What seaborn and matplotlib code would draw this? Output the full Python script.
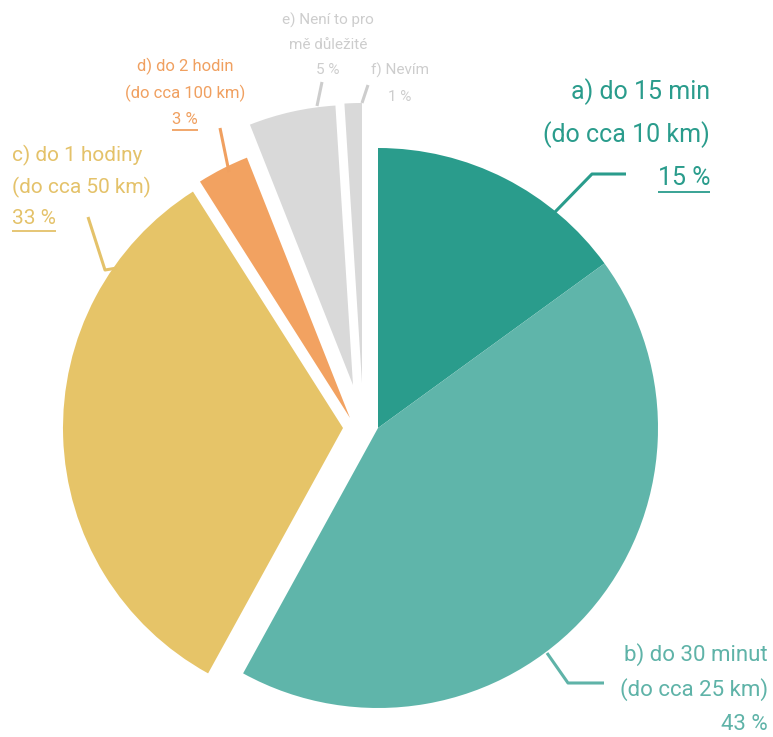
import matplotlib
matplotlib.use('Agg')
import matplotlib.pyplot as plt
import seaborn as sns

# data
categories = ['a) do 15 min', 'b) do 30 minut', 'c) do 1 hodiny',
              'd) do 2 hodin', 'e) Není to pro mě důležité', 'f) Nevím']
shares = [15, 43, 33, 3, 5, 1]
pct_labels = ['15 %', '43 %', '33 %', '3 %', '5 %', '1 %']
label_lines = [
    ['a) do 15 min', '(do cca 10 km)'],
    ['b) do 30 minut', '(do cca 25 km)'],
    ['c) do 1 hodiny', '(do cca 50 km)'],
    ['d) do 2 hodin', '(do cca 100 km)'],
    ['e) Není to pro', 'mě důležité'],
    ['f) Nevím'],
]

slice_colors = ['#2a9c8c', '#5fb5aa', '#e6c468', '#f2a261', '#d9d9d9', '#d9d9d9']
text_colors = ['#2a9c8c', '#5fb3a8', '#e4c26a', '#f0a060', '#cdcdcd', '#cdcdcd']

sns.set_theme(style='white')
plt.rcParams['font.family'] = ['Roboto', 'DejaVu Sans']

W, H = 773, 737
CX, CY, R = 378, 428, 280   # pie centre / radius in pixels


def px(x, y):
    # pixel position -> data coords (radius 1 == R px)
    return (x - CX) / R, (CY - y) / R


fig = plt.figure(figsize=(W / 100, H / 100), dpi=100)
ax = fig.add_axes([0, 0, 1, 1])

wedges, _ = ax.pie(shares, colors=slice_colors, startangle=90, counterclock=False,
                   radius=1, wedgeprops=dict(linewidth=0))

# pie() resets the limits, so set them afterwards
ax.set_xlim(-CX / R, (W - CX) / R)
ax.set_ylim(-(H - CY) / R, CY / R)
ax.set_aspect('auto')
ax.axis('off')

# manual offsets of the separated slices (px)
offsets = [(0, 0), (0, 0), (-35, 0), (-28, -10), (-25, -43), (-16, -45)]
for w, (dx, dy) in zip(wedges, offsets):
    w.set_center(px(CX + dx, CY + dy))

# label layout: anchor x, first line y, line spacing, font size, align, underline
layout = [
    dict(x=710, y=92, dy=43, fs=18, ha='right', ul=True),
    dict(x=768, y=655, dy=35, fs=16, ha='right', ul=False),
    dict(x=12, y=155, dy=32, fs=15, ha='left', ul=True),
    dict(x=185, y=66, dy=27, fs=12, ha='center', ul=True),
    dict(x=328, y=20, dy=25, fs=11, ha='center', ul=False),
    dict(x=400, y=70, dy=27, fs=11, ha='center', ul=False),
]

leaders = [
    [(555, 212), (592, 174), (626, 174)],
    [(547, 653), (568, 683), (604, 683)],
    [(88, 217), (105, 270), (117, 268)],
    [(220, 128), (229, 172)],
    [(322, 82), (317, 106)],
    [(368, 85), (362, 103)],
]

texts = []
for i, lines in enumerate(label_lines):
    L = layout[i]
    col = text_colors[i]
    for j, line in enumerate(lines):
        ax.text(*px(L['x'], L['y'] + j * L['dy']), line, color=col,
                fontsize=L['fs'], ha=L['ha'], va='center')
    yp = L['y'] + len(lines) * L['dy']
    t = ax.text(*px(L['x'], yp), pct_labels[i], color=col,
                fontsize=L['fs'], ha=L['ha'], va='center')
    texts.append(t)
    xs = [px(p[0], p[1])[0] for p in leaders[i]]
    ys = [px(p[0], p[1])[1] for p in leaders[i]]
    ax.plot(xs, ys, color=col, lw=2.2, solid_capstyle='butt')

# underline the percentages where the reference does
fig.canvas.draw()
renderer = fig.canvas.get_renderer()
for i, t in enumerate(texts):
    if not layout[i]['ul']:
        continue
    bb = t.get_window_extent(renderer=renderer)
    yb = H - bb.y0 + 2
    ax.plot([px(bb.x0, 0)[0], px(bb.x1, 0)[0]], [px(0, yb)[1]] * 2,
            color=text_colors[i], lw=1.3, solid_capstyle='butt')

fig.savefig('out.png', dpi=100)
